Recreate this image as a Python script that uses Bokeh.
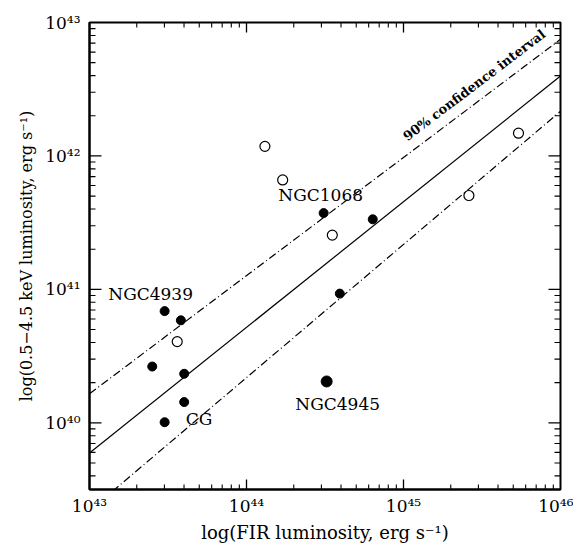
from bokeh.plotting import figure
from bokeh.models import FixedTicker, CustomJSTickFormatter, Label
from bokeh.embed import file_html
from bokeh.resources import INLINE

# ---- data ----
open_x = [1.31e44, 1.70e44, 3.52e44, 2.61e45, 5.40e45, 3.62e43]
open_y = [1.18e42, 6.61e41, 2.55e41, 5.05e41, 1.48e42, 4.06e40]

filled_x = [3.10e44, 6.37e44, 3.93e44, 3.01e43, 3.82e43, 2.51e43, 4.01e43, 4.01e43, 3.01e43]
filled_y = [3.73e41, 3.35e41, 9.29e40, 6.87e40, 5.86e40, 2.64e40, 2.33e40, 1.43e40, 1.01e40]

ngc4945_x = [3.24e44]
ngc4945_y = [2.04e40]

fit_x = [1e43, 1e46]
fit_y = [5.93e39, 3.97e42]
upper_y = [1.65e40, 7.48e42]
lower_y = [2.19e39, 2.16e42]

x_decades = [1e43, 1e44, 1e45, 1e46]
y_decades = [1e40, 1e41, 1e42, 1e43]

# labelled objects: name, x, y
names = ["NGC1068", "NGC4939", "CG", "NGC4945"]
name_x = [filled_x[0], filled_x[3], filled_x[8], ngc4945_x[0]]
name_y = [filled_y[0], filled_y[3], filled_y[8], ngc4945_y[0]]

FONT = "DejaVu Serif"
X0, X1 = 1e43, 1e46
Y0, Y1 = 10 ** 39.5, 1e43
FRAME = 471  # frame width and height in px


def minors(decades):
    out = []
    for d in decades[:-1]:
        out += [d * k for k in range(2, 10)]
    return out


x_minor = [v for v in minors(x_decades) if X0 < v < X1]
y_minor = [v for v in minors([1e39] + y_decades) if Y0 < v < Y1]
x_major = [v for v in x_decades if X0 < v < X1]
y_major = [v for v in y_decades if Y0 < v < Y1]

fmt = CustomJSTickFormatter(code="""
const sup = {'0':'\u2070','1':'\u00b9','2':'\u00b2','3':'\u00b3','4':'\u2074','5':'\u2075','6':'\u2076','7':'\u2077','8':'\u2078','9':'\u2079','-':'\u207b'};
const e = Math.round(Math.log10(tick));
return '10' + String(e).split('').map(c => sup[c]).join('');
""")

p = figure(width=573, height=545, x_axis_type="log", y_axis_type="log",
           x_range=(X0, X1), y_range=(Y0, Y1),
           output_backend="svg", toolbar_location=None,
           min_border_left=89, min_border_right=13, min_border_top=22, min_border_bottom=52)
p.grid.visible = False
p.outline_line_color = "black"
p.outline_line_width = 2
p.background_fill_color = "white"
p.border_fill_color = "white"


def style(ax, ticks):
    ax.ticker = FixedTicker(ticks=ticks)
    ax.formatter = fmt
    ax.major_tick_in = 0
    ax.major_tick_out = 0
    ax.minor_tick_in = 0
    ax.minor_tick_out = 0
    ax.axis_line_color = "black"
    ax.axis_line_width = 2
    ax.major_label_text_font = FONT
    ax.major_label_text_font_size = "17px"
    ax.major_label_text_color = "black"
    ax.axis_label_text_font = FONT
    ax.axis_label_text_font_style = "normal"
    ax.axis_label_text_color = "black"


style(p.xaxis[0], x_decades)
style(p.yaxis[0], y_decades)
p.xaxis[0].axis_label = "log(FIR luminosity, erg s\u207b\u00b9)"
p.yaxis[0].axis_label = "log(0.5\u22124.5 keV luminosity, erg s\u207b\u00b9)"
p.xaxis[0].axis_label_text_font_size = "18px"
p.yaxis[0].axis_label_text_font_size = "16px"
p.xaxis[0].major_label_standoff = 6
p.yaxis[0].major_label_standoff = 9
p.xaxis[0].axis_label_standoff = 3
p.yaxis[0].axis_label_standoff = 6

# inward ticks on all four sides, drawn as data-space segments
px_dec_x = FRAME / 3.0     # px per decade in x
px_dec_y = FRAME / 3.5     # px per decade in y
fx = lambda px: 10 ** (px / px_dec_x)
fy = lambda px: 10 ** (px / px_dec_y)
MAJ_X, MIN_X, MAJ_Y, MIN_Y = 10, 5, 12, 6


def ticks_x(vals, ln, w):
    n = len(vals)
    p.segment(vals, [Y0] * n, vals, [Y0 * fy(ln)] * n, line_color="black", line_width=w)
    p.segment(vals, [Y1] * n, vals, [Y1 / fy(ln)] * n, line_color="black", line_width=w)


def ticks_y(vals, ln, w):
    n = len(vals)
    p.segment([X0] * n, vals, [X0 * fx(ln)] * n, vals, line_color="black", line_width=w)
    p.segment([X1] * n, vals, [X1 / fx(ln)] * n, vals, line_color="black", line_width=w)


ticks_x(x_major, MAJ_X, 1.3)
ticks_x(x_minor, MIN_X, 1.1)
ticks_y(y_major, MAJ_Y, 1.3)
ticks_y(y_minor, MIN_Y, 1.1)

# lines
p.line(fit_x, fit_y, line_color="black", line_width=1.2)
p.line(fit_x, upper_y, line_color="black", line_width=1.2, line_dash="8 3 1 3")
p.line(fit_x, lower_y, line_color="black", line_width=1.2, line_dash="8 3 1 3")

# points
p.scatter(open_x, open_y, marker="circle", size=10, fill_color="white",
          line_color="black", line_width=1.2)
p.scatter(filled_x, filled_y, marker="circle", size=9, fill_color="black", line_color="black")
p.scatter(ngc4945_x, ngc4945_y, marker="circle", size=11, fill_color="black", line_color="black")

# object names
offsets = {
    "NGC1068": dict(dx=-3, dy=-8, align="center", base="bottom"),
    "NGC4939": dict(dx=-14, dy=-7, align="center", base="bottom"),
    "CG": dict(dx=21, dy=-3, align="left", base="middle"),
    "NGC4945": dict(dx=11, dy=13, align="center", base="top"),
}
for n, xx, yy in zip(names, name_x, name_y):
    o = offsets[n]
    p.add_layout(Label(x=xx, y=yy, text=n, x_offset=o["dx"], y_offset=-o["dy"],
                       text_align=o["align"], text_baseline=o["base"],
                       text_font=FONT, text_font_size="17px", text_color="black"))

# confidence interval label
p.add_layout(Label(x=10 ** 45.45, y=10 ** 42.53, text="90% confidence interval",
                   angle=37.2, angle_units="deg", text_align="center", text_baseline="middle",
                   text_font=FONT, text_font_style="bold", text_font_size="13px",
                   text_color="black"))

open("out.html", "w").write(file_html(p, INLINE))
